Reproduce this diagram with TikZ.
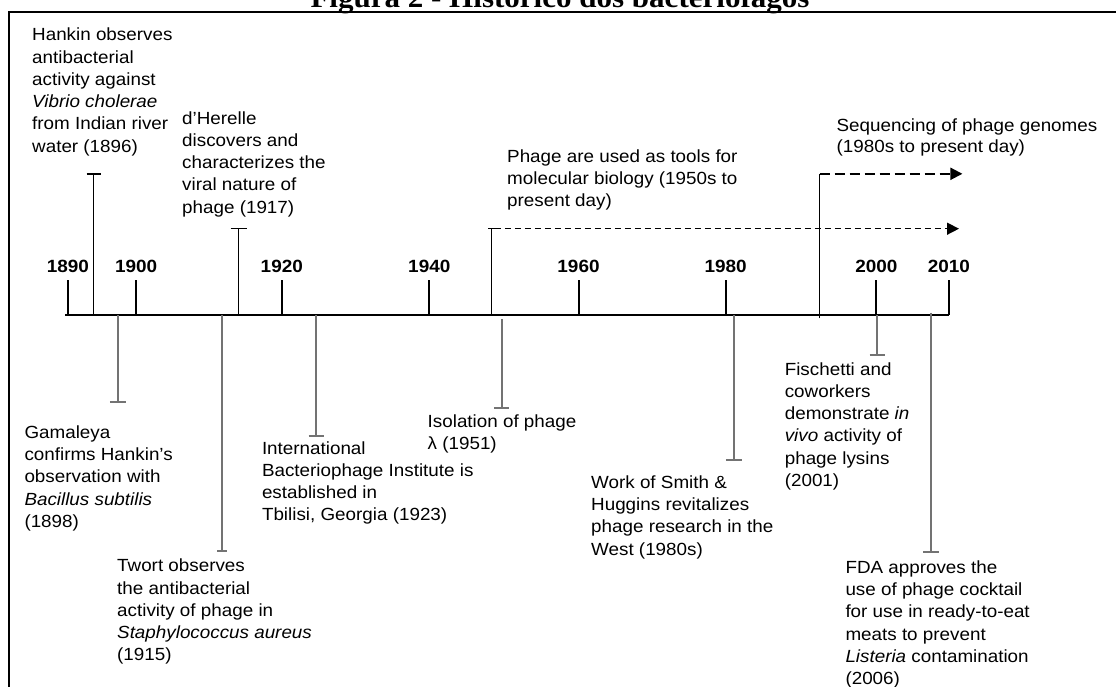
\documentclass[tikz,border=0pt]{standalone}
\usepackage{fontspec}
\setmainfont{Liberation Sans}[FakeStretch=1.07]
\newfontfamily\titlefont{Liberation Serif}[FakeStretch=1.07]
\usetikzlibrary{arrows.meta}
\definecolor{dgray}{RGB}{115,115,115}
\tikzset{
  evtext/.style={align=left, inner sep=0pt, anchor=base west, font=\fontsize{17.6}{22.3}\selectfont},
  yeartext/.style={inner sep=0pt, anchor=base, font=\fontsize{17.7}{20}\selectfont\bfseries},
  axisline/.style={line width=2pt, black},
  tickline/.style={line width=2pt, black},
  upline/.style={line width=1.3pt, black},
  downline/.style={line width=2pt, dgray},
  bigdash/.style={line width=2pt, dash pattern=on 10pt off 5pt, -{Triangle[length=12pt,width=12pt]}},
  smalldash/.style={line width=1.5pt, dash pattern=on 6pt off 4pt, -{Triangle[length=12pt,width=12pt]}},
  frameline/.style={line width=1.8pt, black}
}
\begin{document}
\begin{tikzpicture}[x=1pt,y=-1pt]
\useasboundingbox (0,0) rectangle (1116,686);
% title (cropped) and frame
\node[inner sep=0pt, anchor=base, font=\titlefont\fontsize{29}{32}\selectfont\bfseries] (title) at (560,7.5) {Figura 2 - Histórico dos bacteriófagos};
\coordinate (fTL) at (8.9,11.7);
\coordinate (fTR) at (1140,11.7);
\coordinate (fBL) at (8.9,700);
\draw[frameline] (fTR) -- (fTL) -- (fBL);
% axis
\coordinate (axL) at (65.4,315);
\coordinate (axR) at (948.9,315);
\draw[axisline] (axL) -- (axR);
% year ticks
\foreach \yr/\xx in {1890/67.9,1900/136.2,1920/281.8,1940/429.3,1960/578.5,1980/725.6,2000/876.4,2010/948.9}{
  \coordinate (t\yr b) at (\xx,315);
  \coordinate (t\yr t) at (\xx,279.5);
  \draw[tickline] (t\yr b) -- (t\yr t);
  \node[yeartext] (y\yr) at (\xx,272.5) {\yr};
}
% events above axis
\coordinate (hkb) at (93.6,315); \coordinate (hkt) at (93.6,174);
\draw[upline] (hkb) -- (hkt);
\draw[upline] ([xshift=-7pt]hkt) -- ([xshift=7pt]hkt);
\coordinate (dhb) at (238.6,315); \coordinate (dht) at (238.6,228.7);
\draw[upline] (dhb) -- (dht);
\draw[upline] ([xshift=-8pt]dht) -- ([xshift=8pt]dht);
% phage tools
\coordinate (ptb) at (491.8,315); \coordinate (ptt) at (491.8,228.7); \coordinate (pttip) at (959,228.7);
\draw[upline] (ptb) -- (ptt);
\draw[upline] ([xshift=-3.5pt]ptt) -- ([xshift=3pt]ptt);
\draw[smalldash] ([xshift=3pt]ptt) -- (pttip);
% sequencing
\coordinate (sqb) at (819.6,318.3); \coordinate (sqt) at (819.6,173.8); \coordinate (sqtip) at (962.4,173.8);
\draw[upline] (sqb) -- (sqt);
\draw[bigdash] (sqt) -- (sqtip);
% events below axis
\coordinate (gmt) at (117.8,315); \coordinate (gmb) at (117.8,401.7);
\draw[downline] (gmt) -- (gmb);
\draw[downline] ([xshift=-8pt]gmb) -- ([xshift=8pt]gmb);
\coordinate (twt) at (221.8,315); \coordinate (twb) at (221.8,550.7);
\draw[downline] (twt) -- (twb);
\draw[downline] ([xshift=-4.8pt]twb) -- ([xshift=4.8pt]twb);
\coordinate (ibt) at (316.2,315); \coordinate (ibb) at (316.2,435.7);
\draw[downline] (ibt) -- (ibb);
\draw[downline] ([xshift=-7.6pt]ibb) -- ([xshift=7.6pt]ibb);
\coordinate (lmt) at (501.6,319.3); \coordinate (lmb) at (501.6,407.7);
\draw[downline] (lmt) -- (lmb);
\draw[downline] ([xshift=-7.5pt]lmb) -- ([xshift=7.5pt]lmb);
\coordinate (smt) at (733.9,315); \coordinate (smb) at (733.9,460);
\draw[downline] (smt) -- (smb);
\draw[downline] ([xshift=-8pt]smb) -- ([xshift=8pt]smb);
\coordinate (fit) at (877.4,315); \coordinate (fib) at (877.4,355);
\draw[downline] (fit) -- (fib);
\draw[downline] ([xshift=-7.8pt]fib) -- ([xshift=7.8pt]fib);
\coordinate (fdt) at (931,312.7); \coordinate (fdb) at (931,551.7);
\draw[downline] (fdt) -- (fdb);
\draw[downline] ([xshift=-8pt]fdb) -- ([xshift=8pt]fdb);
% texts (anchor = baseline of the last line)
\node[evtext] (hankin) at (32,152.2) {Hankin observes\\antibacterial\\activity against\\\textit{Vibrio cholerae}\\from Indian river\\water (1896)};
\node[evtext] (dherelle) at (182,213.2) {d'Herelle\\discovers and\\characterizes the\\viral nature of\\phage (1917)};
\node[evtext] (tools) at (507,206.6) {Phage are used as tools for\\molecular biology (1950s to\\present day)};
\node[evtext, font=\fontsize{17.6}{21.7}\selectfont] (seq) at (836.4,152.7) {Sequencing of phage genomes\\(1980s to present day)};
\node[evtext] (gamaleya) at (24.3,527.5) {Gamaleya\\confirms Hankin's\\observation with\\\textit{Bacillus subtilis}\\(1898)};
\node[evtext] (twort) at (117,660.9) {Twort observes\\the antibacterial\\activity of phage in\\\textit{Staphylococcus aureus}\\(1915)};
\node[evtext] (ibi) at (261.8,520.9) {International\\Bacteriophage Institute is\\established in\\Tbilisi, Georgia (1923)};
\node[evtext] (lambda) at (427.5,449.6) {Isolation of phage\\λ (1951)};
\node[evtext] (smith) at (591,555.2) {Work of Smith \&\\Huggins revitalizes\\phage research in the\\West (1980s)};
\node[evtext] (fisch) at (784.6,486.5) {Fischetti and\\coworkers\\demonstrate \textit{in}\\\textit{vivo} activity of\\phage lysins\\(2001)};
\node[evtext] (fda) at (845.3,684.8) {FDA approves the\\use of phage cocktail\\for use in ready-to-eat\\meats to prevent\\\textit{Listeria} contamination\\(2006)};
\end{tikzpicture}
\end{document}
